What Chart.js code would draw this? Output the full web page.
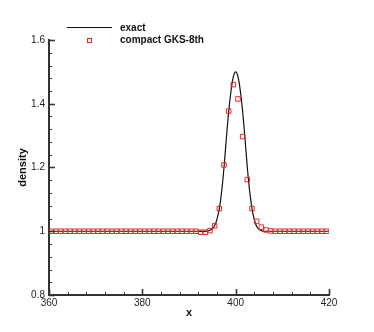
<!DOCTYPE html>
<html>
<head>
<meta charset="utf-8">
<script src="https://cdn.jsdelivr.net/npm/chart.js@4.4.1/dist/chart.umd.min.js"></script>
<style>
  body { margin: 0; background: #fff; }
  #wrap { position: relative; width: 374px; height: 332px; }
  .leg { position: absolute; font: bold 10px "Liberation Sans", Arial, sans-serif; color: #111; line-height: 12px; }
</style>
</head>
<body>
<div id="wrap">
  <canvas id="density-chart" width="374" height="332"></canvas>
  <div style="position:absolute;left:67px;top:27px;width:45px;height:1px;background:#111"></div>
  <div class="leg" style="left:120px;top:22px">exact</div>
  <div style="position:absolute;left:87px;top:38px;width:3px;height:3px;border:1px solid #e8262a"></div>
  <div class="leg" style="left:120px;top:34px">compact GKS-8th</div>
</div>
<script>
// exact solution
const exactX = [360, 392, 393, 394, 394.5, 395, 395.5, 396, 396.5, 397, 397.5, 398, 398.5, 399, 399.5,
  400, 400.5, 401, 401.5, 402, 402.5, 403, 403.5, 404, 404.5, 405, 405.5, 406, 420];
const exactY = [1.0, 1.0, 0.999, 1.001, 1.003, 1.008, 1.018, 1.038, 1.071, 1.125, 1.2, 1.29, 1.375, 1.44, 1.485,
  1.5, 1.485, 1.44, 1.375, 1.29, 1.2, 1.125, 1.071, 1.036, 1.015, 1.006, 1.002, 1.0, 1.0];

// compact GKS-8th cell values (cell centres 360.5 .. 419.5)
const gksX = [360.5, 361.5, 362.5, 363.5, 364.5, 365.5, 366.5, 367.5, 368.5, 369.5,
  370.5, 371.5, 372.5, 373.5, 374.5, 375.5, 376.5, 377.5, 378.5, 379.5,
  380.5, 381.5, 382.5, 383.5, 384.5, 385.5, 386.5, 387.5, 388.5, 389.5,
  390.5, 391.5, 392.5, 393.5, 394.5, 395.5, 396.5, 397.5, 398.5, 399.5,
  400.5, 401.5, 402.5, 403.5, 404.5, 405.5, 406.5, 407.5, 408.5, 409.5,
  410.5, 411.5, 412.5, 413.5, 414.5, 415.5, 416.5, 417.5, 418.5, 419.5];
const gksY = [1.0, 1.0, 1.0, 1.0, 1.0, 1.0, 1.0, 1.0, 1.0, 1.0,
  1.0, 1.0, 1.0, 1.0, 1.0, 1.0, 1.0, 1.0, 1.0, 1.0,
  1.0, 1.0, 1.0, 1.0, 1.0, 1.0, 1.0, 1.0, 1.0, 1.0,
  1.0, 1.0, 0.997, 0.997, 1.002, 1.017, 1.071, 1.208, 1.377, 1.460,
  1.415, 1.297, 1.162, 1.071, 1.031, 1.013, 1.004, 1.001, 1.0, 1.0,
  1.0, 1.0, 1.0, 1.0, 1.0, 1.0, 1.0, 1.0, 1.0, 1.0];

const xTicks = [360, 380, 400, 420];
const yTicks = [0.8, 1.0, 1.2, 1.4, 1.6];

const FONT = "'Liberation Sans', Arial, sans-serif";
const AXIS = '#333';

// tecplot-style inward tick marks, major + minor
const innerTicks = {
  id: 'innerTicks',
  afterDraw(chart) {
    const { ctx, chartArea: a, scales: { x, y } } = chart;
    ctx.save();
    ctx.strokeStyle = AXIS;
    for (let v = 360; v <= 420; v += 4) {
      const major = (v - 360) % 20 === 0;
      const px = Math.round(x.getPixelForValue(v)) + 0.5;
      ctx.lineWidth = major ? 1.6 : 1;
      ctx.beginPath();
      ctx.moveTo(px, a.bottom);
      ctx.lineTo(px, a.bottom - (major ? 6 : 3));
      ctx.stroke();
    }
    for (let i = 0; i <= 20; i++) {
      const v = 0.8 + i * 0.04;
      const major = i % 5 === 0;
      const py = Math.round(y.getPixelForValue(v)) + 0.5;
      ctx.lineWidth = major ? 1.6 : 1;
      ctx.beginPath();
      ctx.moveTo(a.left, py);
      ctx.lineTo(a.left + (major ? 6 : 3), py);
      ctx.stroke();
    }
    ctx.restore();
  }
};

new Chart(document.getElementById('density-chart'), {
  type: 'scatter',
  data: {
    datasets: [
      {
        label: 'exact',
        data: exactX.map((v, i) => ({ x: v, y: exactY[i] })),
        showLine: true,
        borderColor: '#111',
        borderWidth: 1.2,
        pointRadius: 0,
        cubicInterpolationMode: 'monotone',
        order: 2
      },
      {
        label: 'compact GKS-8th',
        data: gksX.map((v, i) => ({ x: v, y: gksY[i] })),
        showLine: false,
        pointStyle: 'rect',
        pointRadius: 3.2,
        pointBorderWidth: 1,
        pointBorderColor: '#e8262a',
        pointBackgroundColor: 'rgba(0,0,0,0)',
        order: 1
      }
    ]
  },
  options: {
    responsive: false,
    animation: false,
    layout: { padding: { left: 0, right: 45, top: 40, bottom: 0 } },
    plugins: { legend: { display: false }, tooltip: { enabled: false } },
    scales: {
      x: {
        type: 'linear',
        min: 360, max: 420,
        afterBuildTicks: s => { s.ticks = xTicks.map(v => ({ value: v })); },
        afterFit: s => { s.height = 37; },
        grid: { display: false, drawTicks: false },
        border: { display: true, color: AXIS, width: 2 },
        ticks: { color: '#222', padding: 2, font: { family: FONT, size: 10 }, maxRotation: 0 },
        title: { display: true, text: 'x', color: '#111', font: { family: FONT, size: 11, weight: 'bold' }, padding: { top: 0, bottom: 12 } }
      },
      y: {
        type: 'linear',
        min: 0.8, max: 1.6,
        afterBuildTicks: s => { s.ticks = yTicks.map(v => ({ value: v })); },
        afterFit: s => { s.width = 49; },
        grid: { display: false, drawTicks: false },
        border: { display: true, color: AXIS, width: 2 },
        ticks: { color: '#222', padding: 4, font: { family: FONT, size: 10 }, callback: v => String(+v.toFixed(2)) },
        title: { display: true, text: 'density', color: '#111', font: { family: FONT, size: 11, weight: 'bold' }, padding: { top: 16, bottom: 0 } }
      }
    }
  },
  plugins: [innerTicks]
});
</script>
</body>
</html>
